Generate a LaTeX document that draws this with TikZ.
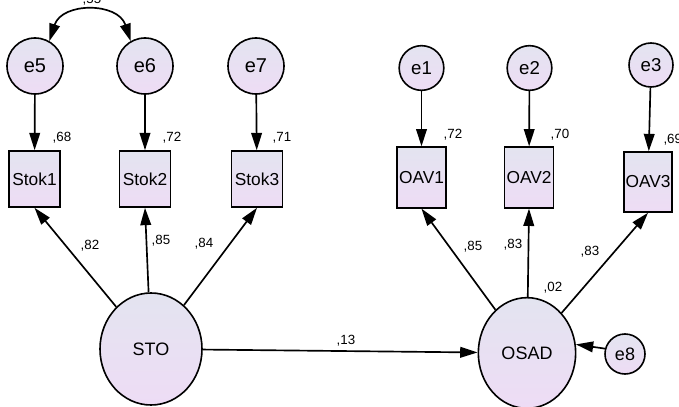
\documentclass[tikz,border=0pt]{standalone}
\usepackage{fontspec}
\setmainfont{Liberation Sans}
\usetikzlibrary{shapes.geometric,arrows.meta}

\definecolor{lavtop}{HTML}{E3E4F0}
\definecolor{lavbot}{HTML}{EEDCF5}

\tikzset{every picture/.style={line width=0.75pt}}
\tikzset{
	errvar/.style={circle,draw,line width=1.2pt,top color=lavtop,bottom color=lavbot,inner sep=0pt},
	obsvar/.style={rectangle,draw,line width=1.2pt,top color=lavtop,bottom color=lavbot,inner sep=0pt,font=\fontsize{13}{15}\selectfont},
	latvar/.style={ellipse,draw,line width=1.2pt,top color=lavtop,bottom color=lavbot,inner sep=0pt,font=\fontsize{13.5}{15}\selectfont},
	coef/.style={inner sep=0.75pt,font=\fontsize{10}{12}\selectfont},
	regpath/.style={line width=1.25pt,-{Triangle[length=13pt,width=8pt]}},
	covpath/.style={line width=1.25pt,{Triangle[length=13pt,width=8pt]}-{Triangle[length=13pt,width=8pt]}},
}

\begin{document}
\begin{tikzpicture}[x=0.75pt,y=0.75pt,yscale=-1,xscale=1]
	\useasboundingbox (0,0) rectangle (679,407);
	
	%Shape: Circles (errors)
	\node (e5) at (35,66) [errvar,minimum size=42pt,font=\fontsize{15}{17}\selectfont] {e5};
	\node (e6) at (145,66) [errvar,minimum size=42pt,font=\fontsize{15}{17}\selectfont] {e6};
	\node (e7) at (256,66) [errvar,minimum size=42pt,font=\fontsize{15}{17}\selectfont] {e7};
	\node (e1) at (421.5,68) [errvar,minimum size=33.5pt,font=\fontsize{14}{16}\selectfont] {e1};
	\node (e2) at (529.5,68) [errvar,minimum size=33.5pt,font=\fontsize{14}{16}\selectfont] {e2};
	\node (e3) at (651,65) [errvar,minimum size=33pt,font=\fontsize{14}{16}\selectfont] {e3};
	\node (e8) at (625,354) [errvar,minimum size=30pt,font=\fontsize{13.5}{15}\selectfont] {e8};
	
	%Shape: Rectangles (indicators)
	\node (Stok1) at (34.5,179) [obsvar,minimum width=38pt,minimum height=42pt] {Stok1};
	\node (Stok2) at (145,179) [obsvar,minimum width=38pt,minimum height=42pt] {Stok2};
	\node (Stok3) at (257,179) [obsvar,minimum width=38pt,minimum height=42pt] {Stok3};
	\node (OAV1) at (421.5,177.5) [obsvar,minimum width=36.5pt,minimum height=45.5pt] {OAV1};
	\node (OAV2) at (529,177.5) [obsvar,minimum width=36.5pt,minimum height=45.5pt] {OAV2};
	\node (OAV3) at (648,182) [obsvar,minimum width=36pt,minimum height=45pt] {OAV3};
	
	%Shape: Ellipses (latent)
	\node (STO) at (151,349) [latvar,minimum width=76.5pt,minimum height=84pt] {STO};
	\node (OSAD) at (527,353) [latvar,minimum width=73pt,minimum height=83pt] {OSAD};
	
	%Straight Lines
	\draw [regpath] (e5) -- (Stok1);
	\draw [regpath] (e6) -- (Stok2);
	\draw [regpath] (e7) -- (Stok3);
	\draw [regpath] (e1) -- (OAV1);
	\draw [regpath] (e2) -- (OAV2);
	\draw [regpath] (e3) -- (OAV3);
	\draw [regpath] (STO) -- (Stok1.south);
	\draw [regpath] (STO) -- (Stok2.south);
	\draw [regpath] (STO) -- (Stok3.south);
	\draw [regpath] (OSAD) -- (OAV1.south);
	\draw [regpath] (OSAD) -- (OAV2.south);
	\draw [regpath] (OSAD) -- (OAV3.south);
	\draw [regpath] (STO) -- (OSAD);
	\draw [regpath] (e8.165) -- (OSAD.10);
	%Curve Lines
	\draw [covpath] (e5.60) .. controls (62,2) and (118,2) .. (e6.120);
	
	% Text Node
	\node (c56) at (92,7) [coef,anchor=south] {,55};
	% Text Node
	\node (r1) at (62,138) [coef] {,68};
	\node (r2) at (172,138) [coef] {,72};
	\node (r3) at (282,138) [coef] {,71};
	\node (r4) at (453,135) [coef] {,72};
	\node (r5) at (560,135) [coef] {,70};
	\node (r6) at (662,140) [coef,anchor=west] {,69};
	% Text Node
	\node (l1) at (90,246) [coef] {,82};
	\node (l2) at (161,241) [coef] {,85};
	\node (l3) at (204,244) [coef] {,84};
	\node (l4) at (473,247) [coef] {,85};
	\node (l5) at (513,245) [coef] {,83};
	\node (l6) at (590,252) [coef] {,83};
	% Text Node
	\node (b1) at (346,341) [coef] {,13};
	\node (r7) at (553,288) [coef] {,02};
	
\end{tikzpicture}
\end{document}
